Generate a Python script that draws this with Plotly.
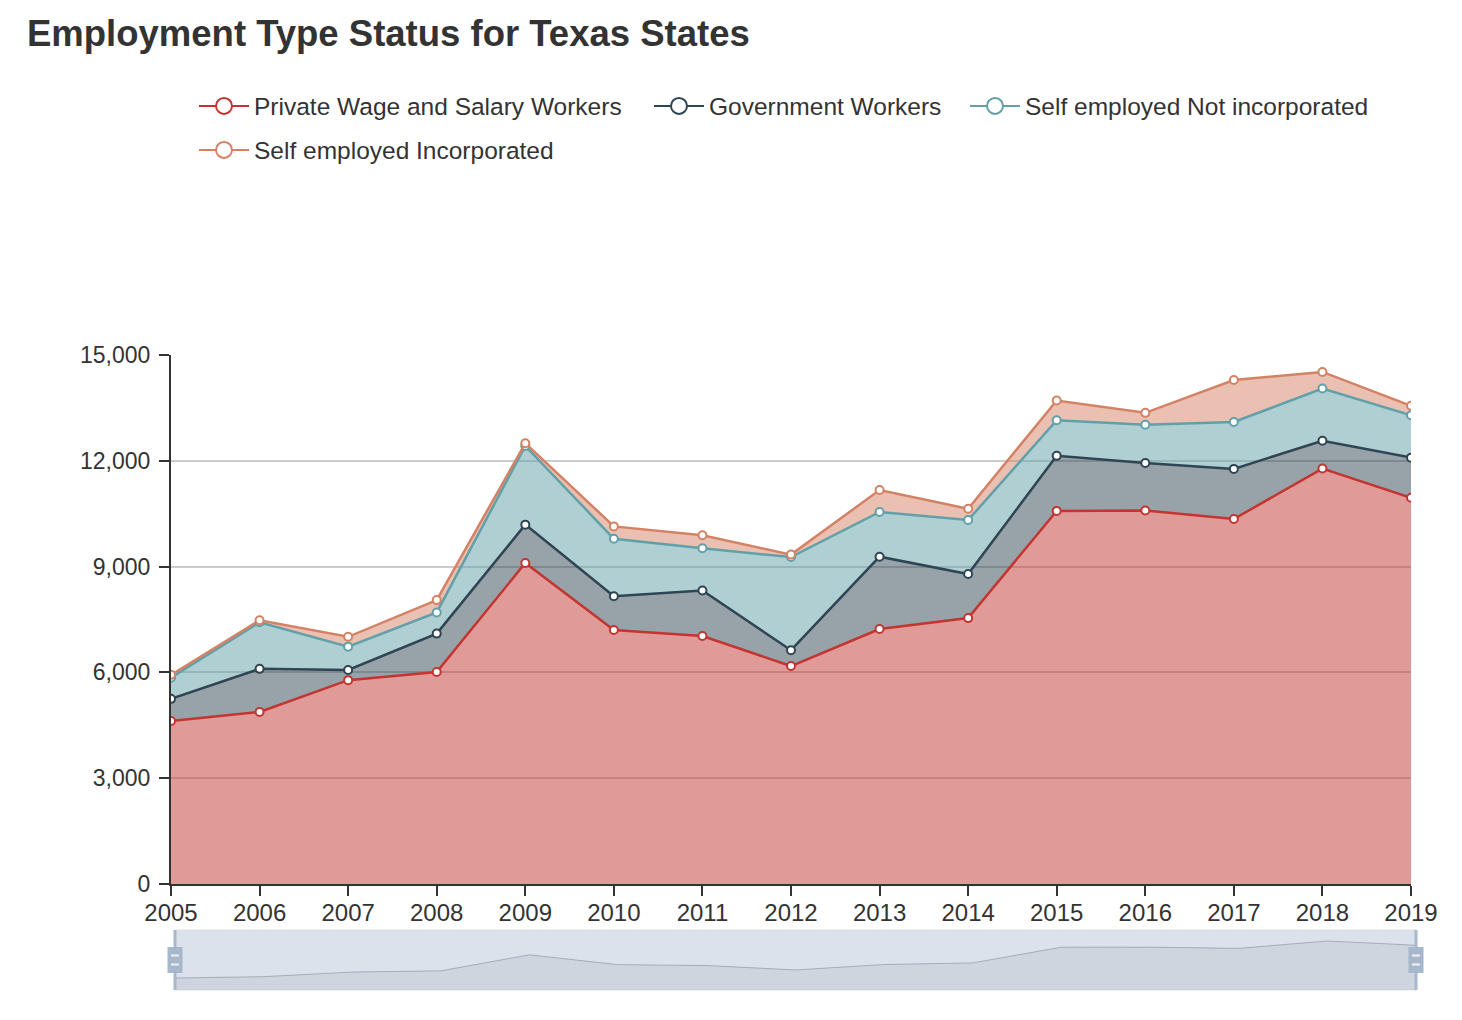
import plotly.graph_objects as go

years = ['2005', '2006', '2007', '2008', '2009', '2010', '2011', '2012',
         '2013', '2014', '2015', '2016', '2017', '2018', '2019']
private = [4620, 4880, 5780, 6010, 9100, 7200, 7030, 6180, 7230, 7540, 10580, 10590, 10350, 11780, 10950]
government = [630, 1220, 290, 1090, 1090, 960, 1290, 450, 2050, 1250, 1560, 1350, 1420, 790, 1140]
self_not_inc = [600, 1320, 660, 600, 2230, 1630, 1200, 2640, 1270, 1530, 1010, 1080, 1330, 1480, 1200]
self_inc = [80, 60, 280, 350, 80, 350, 370, 70, 620, 320, 560, 340, 1190, 470, 270]

names = ['Private Wage and Salary Workers', 'Government Workers',
         'Self employed Not incorporated', 'Self employed Incorporated']
series = [private, government, self_not_inc, self_inc]
colors = ['#c23531', '#2f4554', '#61a0a8', '#d48265']
fills = ['rgba(194,53,49,0.5)', 'rgba(47,69,84,0.5)', 'rgba(97,160,168,0.5)', 'rgba(212,130,101,0.5)']
legend_ids = ['legend', 'legend2', 'legend3', 'legend4']
# legend entry placement (left edge of symbol line, row centre) in pixels
legend_left = [198, 653, 969, 198]
legend_row = [106, 106, 106, 150]

FONT = 'Liberation Sans, Arial, sans-serif'
TXT = '#333333'

fig = go.Figure()

for name, vals, c, fc in zip(names, series, colors, fills):
    fig.add_trace(go.Scatter(
        x=years, y=vals, name=name, stackgroup='one', mode='lines+markers',
        line=dict(color=c, width=2.5), fillcolor=fc,
        marker=dict(symbol='circle', size=8, color='white', line=dict(color=c, width=2)),
        legendgroup=name, showlegend=False, hoverinfo='x+y+name'))

# legend entries (bigger symbols, like the original)
for name, c, lg in zip(names, colors, legend_ids):
    fig.add_trace(go.Scatter(
        x=[None], y=[None], name=name, mode='lines+markers', legend=lg,
        line=dict(color=c, width=2),
        marker=dict(symbol='circle', size=16, color='white', line=dict(color=c, width=2)),
        legendgroup=name, showlegend=True))

# data-zoom slider shadow
fig.add_trace(go.Scatter(
    x=years, y=private, xaxis='x2', yaxis='y2', mode='lines',
    line=dict(color='rgba(47,69,84,0.3)', width=1),
    fill='tozeroy', fillcolor='rgba(47,69,84,0.08)',
    showlegend=False, hoverinfo='skip'))

W, H = 1462, 1020
ML, MR, MT, MB = 171, 46, 355, 30
pw = W - ML - MR
ph = H - MT - MB

layout_legends = {}
for lg, left, row in zip(legend_ids, legend_left, legend_row):
    layout_legends[lg] = dict(orientation='h', xref='container', yref='container',
                              x=(left - 4) / W, xanchor='left', y=1 - row / H, yanchor='middle',
                              font=dict(size=24.5, color=TXT, family=FONT), itemwidth=50,
                              bgcolor='rgba(0,0,0,0)')

fig.update_layout(
    width=W, height=H,
    margin=dict(l=ML, r=MR, t=MT, b=MB, autoexpand=False),
    paper_bgcolor='white', plot_bgcolor='white',
    font=dict(family=FONT, size=24, color=TXT),
    title=dict(text='<b>Employment Type Status for Texas States</b>',
               font=dict(family=FONT, size=36.5, color=TXT),
               xref='container', yref='container', x=27 / W, xanchor='left',
               y=1 - 33 / H, yanchor='middle'),
    xaxis=dict(type='category', range=[0, len(years) - 1], domain=[0, 1240 / pw],
               showgrid=False, showline=True, linecolor='#333333', linewidth=2,
               ticks='outside', ticklen=10, tickwidth=2, tickcolor='#333333',
               tickfont=dict(size=24, color=TXT), anchor='y', zeroline=False,
               ticklabelstandoff=-4),
    yaxis=dict(range=[0, 15000], domain=[(H - MB - 884) / ph, 1], tickvals=[0, 3000, 6000, 9000, 12000, 15000],
               tickformat=',', showgrid=True, gridcolor='#cccccc', gridwidth=2,
               showline=True, linecolor='#333333', linewidth=2,
               ticks='outside', ticklen=10, tickwidth=2, tickcolor='#333333',
               tickfont=dict(size=23, color=TXT), zeroline=False, ticklabelstandoff=4),
    xaxis2=dict(type='category', range=[0, len(years) - 1], domain=[4 / pw, 1], anchor='y2',
                showgrid=False, showticklabels=False, ticks='', showline=False, zeroline=False),
    yaxis2=dict(range=[2300, 13900], domain=[0, 60 / ph], anchor='x2',
                showgrid=False, showticklabels=False, ticks='', showline=False, zeroline=False),
    hovermode='x',
    **layout_legends,
)

shapes = []
# slider filler
shapes.append(dict(type='rect', xref='x2 domain', yref='y2 domain', x0=0, x1=1, y0=0, y1=1,
                   fillcolor='rgba(167,183,204,0.4)', line=dict(color='#dddddd', width=1), layer='below'))
for side in (0, 1):
    # handle bar
    shapes.append(dict(type='rect', xref='x2 domain', yref='y2 domain', xsizemode='pixel', xanchor=side,
                       x0=-1.5, x1=1.5, y0=0, y1=1, fillcolor='#a7b7cc', line=dict(width=0)))
    # handle grip
    shapes.append(dict(type='rect', xref='x2 domain', yref='y2 domain', xsizemode='pixel', xanchor=side,
                       ysizemode='pixel', yanchor=0.5, x0=-7.5, x1=7.5, y0=-13, y1=13,
                       fillcolor='#a7b7cc', line=dict(width=0)))
    for dy in (-4.5, 4.5):
        shapes.append(dict(type='line', xref='x2 domain', yref='y2 domain', xsizemode='pixel', xanchor=side,
                           ysizemode='pixel', yanchor=0.5, x0=-4, x1=4, y0=dy, y1=dy,
                           line=dict(color='#eef1f6', width=2)))
fig.update_layout(shapes=shapes)

fig.write_html('out.html')
